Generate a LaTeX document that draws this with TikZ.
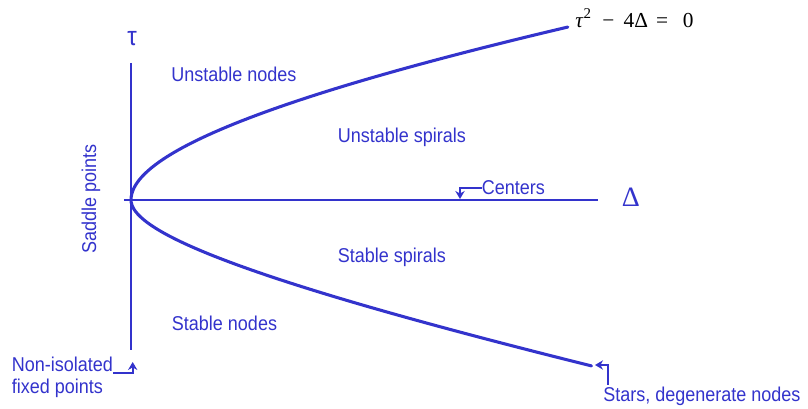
\documentclass[tikz,border=0pt]{standalone}
\usepackage{fontspec}
\setmainfont{Liberation Sans}[FakeStretch=0.9]
\newfontfamily\serifeq{Liberation Serif}
\usetikzlibrary{arrows.meta}
\definecolor{planeblue}{RGB}{51,51,204}
\tikzset{
  axis/.style={
    draw=planeblue,
    line width=2pt
  },
  boundary/.style={
    draw=planeblue,
    line width=2.3pt,
    line cap=round
  },
  region/.style={
    text=planeblue,
    inner sep=0pt,
    font=\fontsize{15}{16}\selectfont
  },
  pointer/.style={draw=planeblue, line width=1.5pt, -{Stealth[length=6pt,width=7pt]}}
}

\begin{document}
\begin{tikzpicture}[x=0.75pt, y=0.75pt]
  \useasboundingbox (-131,-209) rectangle (677,200);
  % axes
  \draw[axis] (0,137) -- (0,-150);
  \draw[axis] (-7,0) -- (467,0);
  \node[text=planeblue, font=\fontsize{20}{20}\selectfont] (tau) at (1,161) {τ};
  \node[text=planeblue, font=\serifeq\fontsize{21}{21}\selectfont] (delta) at (500,3) {Δ};

  % tau^2 - 4 Delta = 0
  \draw[boundary] plot[domain=0:1.73, samples=60, variable=\t] ({215*\t*\t/(1+0.273*\t)}, {100*\t});
  \draw[boundary] plot[domain=0:1.66, samples=60, variable=\t] ({374.6*\t*\t/(1+0.747*\t)}, {-100*\t});
  \node[anchor=base west, inner sep=0pt, font=\serifeq\fontsize{16}{16}\selectfont] (eq) at (444,172)
    {\textit{τ}\raisebox{1pt}{\textsuperscript{2}}\hspace{8pt}−\hspace{7pt}4Δ\hspace{6pt}=\hspace{11pt}0};

  % regions
  \node[region, anchor=base west] (unodes) at (40,118) {Unstable nodes};
  \node[region, anchor=base west] (uspirals) at (206.7,57.3) {Unstable spirals};
  \node[region, anchor=base west] (centers) at (350.7,5) {Centers};
  \node[region, rotate=90] (saddle) at (-40,1) {Saddle points};
  \node[region, anchor=base west] (sspirals) at (206.7,-63) {Stable spirals};
  \node[region, anchor=base west] (snodes) at (40.7,-131) {Stable nodes};
  \node[region, anchor=north west, align=left] (noniso) at (-119.3,-157) {Non-isolated\\fixed points};
  \node[region, anchor=north west] (stars) at (472,-187) {Stars, degenerate nodes};

  \coordinate (centerpt) at (329,1);
  \coordinate (nonisopt) at (1.7,-162);
  \coordinate (starpt) at (464,-165);
  \draw[pointer] (centers.west) -| (centerpt);
  \draw[pointer] ([yshift=-12pt]noniso.north east) -| (nonisopt);
  \draw[pointer] ([xshift=4pt,yshift=1.5pt]stars.north west) |- (starpt);
\end{tikzpicture}
\end{document}
